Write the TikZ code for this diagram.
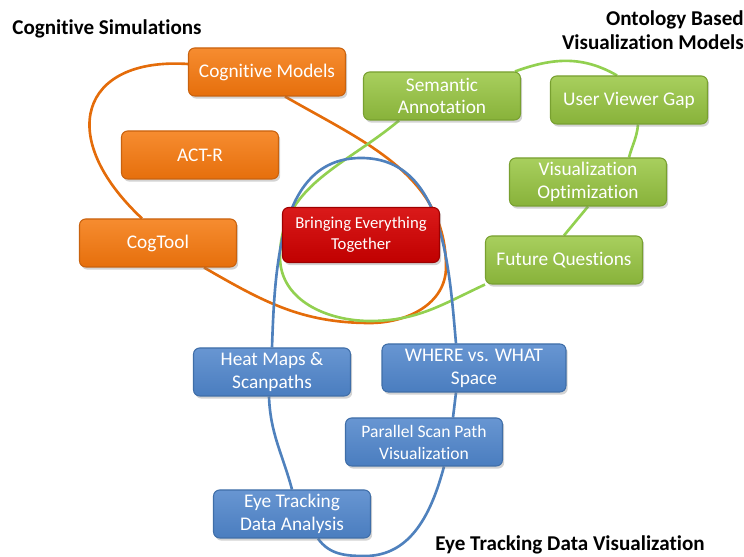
\documentclass[tikz,border=0pt]{standalone}
\usepackage{fontspec}
\setmainfont{Carlito}[Ligatures=NoCommon]
\usetikzlibrary{shadows,backgrounds,calc}

\definecolor{orangetop}{HTML}{F68C30}
\definecolor{orangebot}{HTML}{E66F0C}
\definecolor{orangeedge}{HTML}{C9620E}
\definecolor{greentop}{HTML}{A8CF5E}
\definecolor{greenbot}{HTML}{88B23A}
\definecolor{greenedge}{HTML}{78A030}
\definecolor{bluetop}{HTML}{6896D2}
\definecolor{bluebot}{HTML}{4A7DBF}
\definecolor{blueedge}{HTML}{3F6EA8}
\definecolor{redtop}{HTML}{DA1A1A}
\definecolor{redbot}{HTML}{C00000}
\definecolor{rededge}{HTML}{9E0000}
\definecolor{orangeline}{HTML}{E46C0A}
\definecolor{greenline}{HTML}{92D050}
\definecolor{blueline}{HTML}{4F81BD}

\begin{document}
\begin{tikzpicture}[x=0.02cm,y=0.02cm,
    topic/.style={rounded corners=3.5pt, minimum width=3.14cm, minimum height=0.96cm,
      inner sep=2pt, align=center, text=white, line width=0.6pt,
      font=\fontsize{11}{13}\selectfont,
      drop shadow={shadow xshift=1pt,shadow yshift=-1.5pt,opacity=0.35}},
    orangebox/.style={topic, draw=orangeedge, top color=orangetop, bottom color=orangebot},
    greenbox/.style={topic, draw=greenedge, top color=greentop, bottom color=greenbot},
    bluebox/.style={topic, draw=blueedge, top color=bluetop, bottom color=bluebot},
    redbox/.style={topic, draw=rededge, top color=redtop, bottom color=redbot},
    heading/.style={font=\fontsize{12}{14}\selectfont\bfseries, inner sep=0pt},
    loop/.style={line width=1.5pt}]

    \useasboundingbox (0,0) rectangle (744,557);

    % headings
    \node[heading,anchor=west] (simtitle) at (12,528) {Cognitive Simulations};
    \node[heading,anchor=east,align=right] (ontotitle) at (744,527) {Ontology Based\\Visualization Models};
    \node[heading] (eyetitle) at (570,12) {Eye Tracking Data Visualization};

    % cognitive simulations
    \node[orangebox] (cogmodels) at (267,485) {Cognitive Models};
    \node[orangebox] (actr) at (200,402) {ACT-R};
    \node[orangebox] (cogtool) at (158,314) {CogTool};

    % ontology based models
    \node[greenbox] (semantic) at (442,461) {Semantic\\Annotation};
    \node[greenbox] (gap) at (629,457) {User Viewer Gap};
    \node[greenbox] (visopt) at (588,375) {Visualization\\Optimization};
    \node[greenbox] (future) at (564,297) {Future Questions};

    % centre
    \node[redbox,minimum height=1.1cm,font=\fontsize{9.5}{12}\selectfont] (together) at (361,322) {Bringing Everything\\Together};

    % eye tracking
    \node[bluebox] (heatmaps) at (272,185) {Heat Maps \&\\Scanpaths};
    \node[bluebox,minimum width=3.68cm] (wherewhat) at (474,189) {WHERE vs. WHAT\\Space};
    \node[bluebox,font=\fontsize{10}{12.5}\selectfont] (parallel) at (424,115) {Parallel Scan Path\\Visualization};
    \node[bluebox] (eyedata) at (292,43) {Eye Tracking\\Data Analysis};

    \begin{scope}[on background layer]
        % orange loop
        \draw[loop,orangeline] ($(cogmodels.west)+(0,8)$) .. controls (80,500) and (55,420) .. ($(cogtool.north)+(-16,0)$);
        \draw[loop,orangeline] ($(cogtool.south)+(46,0)$) to[out=-30,in=180] (370,234)
            to[out=0,in=-90] (446,290) to[out=90,in=-30] ($(cogmodels.south)+(18,0)$);

        % green chain
        \draw[loop,greenline] ($(semantic.south)+(-43,0)$) to[out=-140,in=90] (280,300)
            to[out=-90,in=180] (370,236) to[out=0,in=-155] (future.south west);
        \draw[loop,greenline] (future.north) -- (visopt.south);
        \draw[loop,greenline] ($(visopt.north)+(41,0)$) to[out=75,in=-95] ($(gap.south)+(9,0)$);
        \draw[loop,greenline] ($(gap.north)+(-12,0)$) to[out=150,in=20] ($(semantic.north)+(73,0)$);

        % blue loop
        \draw[loop,blueline] ($(wherewhat.north)+(-18,0)$) to[out=95,in=0] (361,399)
            to[out=180,in=88] (heatmaps.north);
        \draw[loop,blueline] ($(heatmaps.south)+(-3,0)$) to[out=-88,in=105] (eyedata.north);
        \draw[loop,blueline] ($(eyedata.south)+(26,0)$) to[out=-55,in=180] (365,1)
            to[out=0,in=-105] ($(parallel.south)+(20,0)$);
        \draw[loop,blueline] ($(parallel.north)+(29,0)$) -- ($(wherewhat.south)+(-18,0)$);
    \end{scope}

\end{tikzpicture}
\end{document}
